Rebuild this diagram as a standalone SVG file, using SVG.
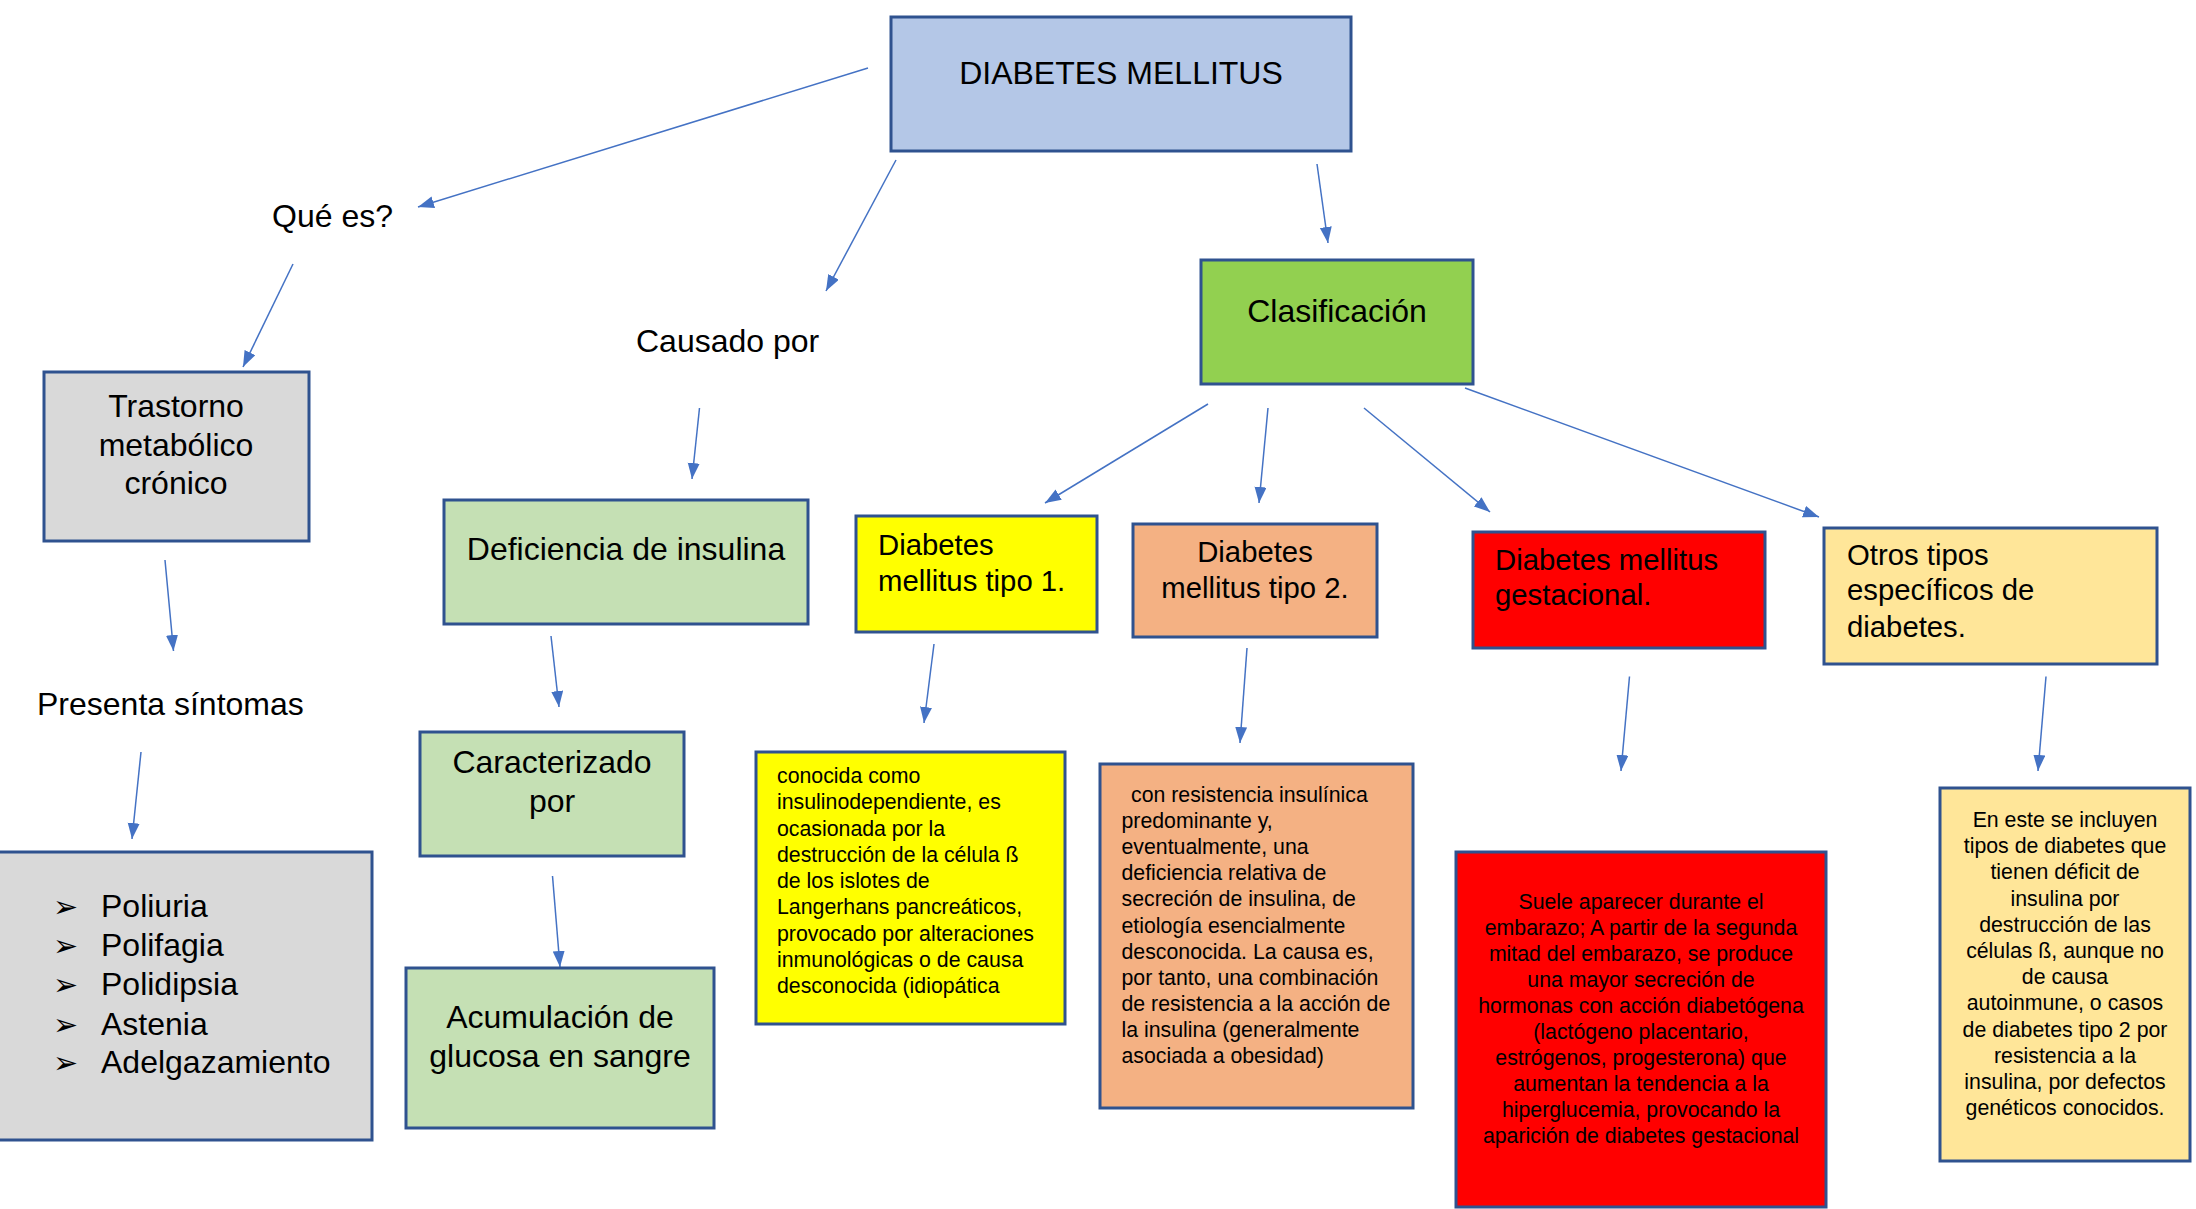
<svg xmlns="http://www.w3.org/2000/svg" width="2196" height="1209" viewBox="0 0 2196 1209">
<style>
.box{stroke:#2F528F;stroke-width:3}
.big{font-family:"Liberation Sans",Arial,sans-serif;font-size:32px;fill:#000}
.mid{font-family:"Liberation Sans",Arial,sans-serif;font-size:29.3px;fill:#000}
.sm{font-family:"Liberation Sans",Arial,sans-serif;font-size:21.3px;fill:#000}
.c{text-anchor:middle}
.bul{font-family:"DejaVu Sans",sans-serif;font-size:30px;fill:#000}
.con line{stroke:#4472C4;stroke-width:1.5;marker-end:url(#ah)}
</style>
<defs>
<marker id="ah" markerUnits="userSpaceOnUse" markerWidth="17" markerHeight="13" refX="16" refY="6" orient="auto">
<path d="M0,0 L16,6 L0,12 z" fill="#4472C4"/>
</marker>
</defs>
<rect width="2196" height="1209" fill="#fff"/>
<g class="con">
<line x1="868" y1="68" x2="418" y2="207"/>
<line x1="896" y1="160" x2="826" y2="291"/>
<line x1="1317" y1="164" x2="1328" y2="243"/>
<line x1="293" y1="264" x2="243" y2="367"/>
<line x1="699.5" y1="408" x2="692" y2="479"/>
<line x1="165" y1="560" x2="173.5" y2="651"/>
<line x1="551" y1="636" x2="559" y2="707"/>
<line x1="141" y1="752" x2="132" y2="839"/>
<line x1="552.5" y1="876" x2="560" y2="967"/>
<line x1="1208" y1="404" x2="1045" y2="503"/>
<line x1="1268" y1="408" x2="1259" y2="503"/>
<line x1="1364" y1="408" x2="1490" y2="512"/>
<line x1="1465" y1="388" x2="1819" y2="517"/>
<line x1="934" y1="644" x2="924" y2="723"/>
<line x1="1247" y1="648" x2="1240" y2="743"/>
<line x1="1629.5" y1="676.5" x2="1621" y2="771"/>
<line x1="2046" y1="676.5" x2="2038" y2="771"/>
</g>
<g id="diabetes">
<rect class="box" x="891" y="17" width="460" height="134" fill="#B4C7E7"/>
<text class="big c" x="1121" y="84">DIABETES MELLITUS</text>
</g>
<g id="que-es">
<text class="big" x="272" y="227">Qué es?</text>
</g>
<g id="causado">
<text class="big" x="636" y="352">Causado por</text>
</g>
<g id="clasificacion">
<rect class="box" x="1201" y="260" width="272" height="124" fill="#92D050"/>
<text class="big c" x="1337" y="322">Clasificación</text>
</g>
<g id="trastorno">
<rect class="box" x="44" y="372" width="265" height="169" fill="#D9D9D9"/>
<text class="big c" x="176" y="417">Trastorno</text>
<text class="big c" x="176" y="456">metabólico</text>
<text class="big c" x="176" y="494">crónico</text>
</g>
<g id="presenta">
<text class="big" x="37" y="715">Presenta síntomas</text>
</g>
<g id="sintomas">
<rect class="box" x="-3" y="852" width="375" height="288" fill="#D9D9D9"/>
<text class="bul" x="53" y="917">➢</text>
<text class="bul" x="53" y="956">➢</text>
<text class="bul" x="53" y="995">➢</text>
<text class="bul" x="53" y="1035">➢</text>
<text class="bul" x="53" y="1073">➢</text>
<text class="big" x="101" y="917">Poliuria</text>
<text class="big" x="101" y="956">Polifagia</text>
<text class="big" x="101" y="995">Polidipsia</text>
<text class="big" x="101" y="1035">Astenia</text>
<text class="big" x="101" y="1073">Adelgazamiento</text>
</g>
<g id="deficiencia">
<rect class="box" x="444" y="500" width="364" height="124" fill="#C5E0B4"/>
<text class="big c" x="626" y="560">Deficiencia de insulina</text>
</g>
<g id="caracterizado">
<rect class="box" x="420" y="732" width="264" height="124" fill="#C5E0B4"/>
<text class="big c" x="552" y="773">Caracterizado</text>
<text class="big c" x="552" y="812">por</text>
</g>
<g id="acumulacion">
<rect class="box" x="406" y="968" width="308" height="160" fill="#C5E0B4"/>
<text class="big c" x="560" y="1028">Acumulación de</text>
<text class="big c" x="560" y="1067">glucosa en sangre</text>
</g>
<g id="tipo1">
<rect class="box" x="856" y="516" width="241" height="116" fill="#FFFF00"/>
<text class="mid" x="878" y="555">Diabetes</text>
<text class="mid" x="878" y="591">mellitus tipo 1.</text>
</g>
<g id="tipo2">
<rect class="box" x="1133" y="524" width="244" height="113" fill="#F4B183"/>
<text class="mid c" x="1255" y="562">Diabetes</text>
<text class="mid c" x="1255" y="598">mellitus tipo 2.</text>
</g>
<g id="gestacional">
<rect class="box" x="1473" y="532" width="292" height="116" fill="#FF0000"/>
<text class="mid" x="1495" y="570">Diabetes mellitus</text>
<text class="mid" x="1495" y="605">gestacional.</text>
</g>
<g id="otros">
<rect class="box" x="1824" y="528" width="333" height="136" fill="#FFE699"/>
<text class="mid" x="1847" y="565">Otros tipos</text>
<text class="mid" x="1847" y="600">específicos de</text>
<text class="mid" x="1847" y="637">diabetes.</text>
</g>
<g id="tipo1-desc">
<rect class="box" x="756" y="752" width="309" height="272" fill="#FFFF00"/>
<text class="sm" x="777" y="783">conocida como</text>
<text class="sm" x="777" y="809.3">insulinodependiente, es</text>
<text class="sm" x="777" y="835.5">ocasionada por la</text>
<text class="sm" x="777" y="861.8">destrucción de la célula ß</text>
<text class="sm" x="777" y="888">de los islotes de</text>
<text class="sm" x="777" y="914.3">Langerhans pancreáticos,</text>
<text class="sm" x="777" y="940.5">provocado por alteraciones</text>
<text class="sm" x="777" y="966.8">inmunológicas o de causa</text>
<text class="sm" x="777" y="993">desconocida (idiopática</text>
</g>
<g id="tipo2-desc">
<rect class="box" x="1100" y="764" width="313" height="344" fill="#F4B183"/>
<text class="sm" x="1131" y="802">con resistencia insulínica</text>
<text class="sm" x="1121.5" y="828.1">predominante y,</text>
<text class="sm" x="1121.5" y="854.2">eventualmente, una</text>
<text class="sm" x="1121.5" y="880.3">deficiencia relativa de</text>
<text class="sm" x="1121.5" y="906.4">secreción de insulina, de</text>
<text class="sm" x="1121.5" y="932.5">etiología esencialmente</text>
<text class="sm" x="1121.5" y="958.6">desconocida. La causa es,</text>
<text class="sm" x="1121.5" y="984.7">por tanto, una combinación</text>
<text class="sm" x="1121.5" y="1010.8">de resistencia a la acción de</text>
<text class="sm" x="1121.5" y="1036.9">la insulina (generalmente</text>
<text class="sm" x="1121.5" y="1063">asociada a obesidad)</text>
</g>
<g id="gestacional-desc">
<rect class="box" x="1456" y="852" width="370" height="355" fill="#FF0000"/>
<text class="sm c" x="1641" y="909">Suele aparecer durante el</text>
<text class="sm c" x="1641" y="935">embarazo; A partir de la segunda</text>
<text class="sm c" x="1641" y="961">mitad del embarazo, se produce</text>
<text class="sm c" x="1641" y="987">una mayor secreción de</text>
<text class="sm c" x="1641" y="1013">hormonas con acción diabetógena</text>
<text class="sm c" x="1641" y="1039">(lactógeno placentario,</text>
<text class="sm c" x="1641" y="1065">estrógenos, progesterona) que</text>
<text class="sm c" x="1641" y="1091">aumentan la tendencia a la</text>
<text class="sm c" x="1641" y="1117">hiperglucemia, provocando la</text>
<text class="sm c" x="1641" y="1143">aparición de diabetes gestacional</text>
</g>
<g id="otros-desc">
<rect class="box" x="1940" y="788" width="250" height="373" fill="#FFE699"/>
<text class="sm c" x="2065" y="827">En este se incluyen</text>
<text class="sm c" x="2065" y="853.2">tipos de diabetes que</text>
<text class="sm c" x="2065" y="879.4">tienen déficit de</text>
<text class="sm c" x="2065" y="905.5">insulina por</text>
<text class="sm c" x="2065" y="931.7">destrucción de las</text>
<text class="sm c" x="2065" y="957.9">células ß, aunque no</text>
<text class="sm c" x="2065" y="984.1">de causa</text>
<text class="sm c" x="2065" y="1010.3">autoinmune, o casos</text>
<text class="sm c" x="2065" y="1036.5">de diabetes tipo 2 por</text>
<text class="sm c" x="2065" y="1062.6">resistencia a la</text>
<text class="sm c" x="2065" y="1088.8">insulina, por defectos</text>
<text class="sm c" x="2065" y="1115">genéticos conocidos.</text>
</g>
</svg>
